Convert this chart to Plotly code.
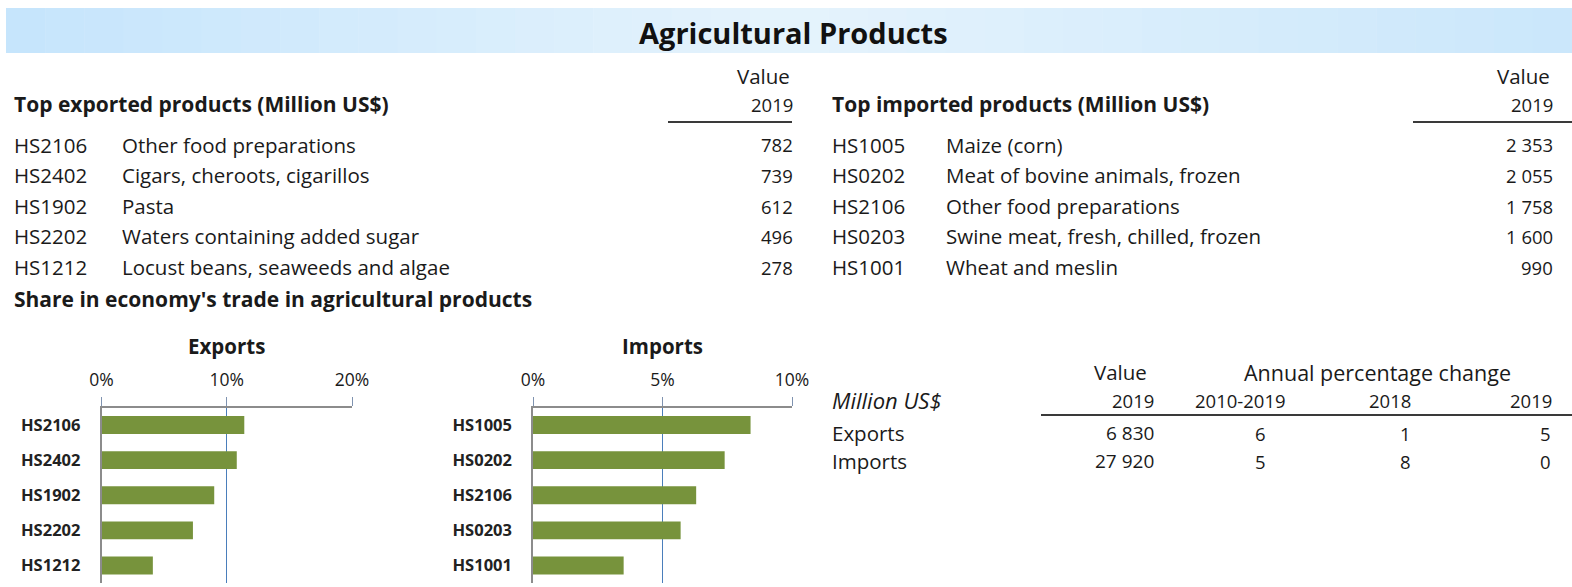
import plotly.graph_objects as go

W, H = 1572, 587
FONT = "Open Sans"

# ---------------- data ----------------
title = "Agricultural Products"
exp_heading = "Top exported products (Million US$)"
imp_heading = "Top imported products (Million US$)"
exp_codes = ["HS2106", "HS2402", "HS1902", "HS2202", "HS1212"]
exp_names = ["Other food preparations", "Cigars, cheroots, cigarillos", "Pasta",
             "Waters containing added sugar", "Locust beans, seaweeds and algae"]
exp_values = [782, 739, 612, 496, 278]
imp_codes = ["HS1005", "HS0202", "HS2106", "HS0203", "HS1001"]
imp_names = ["Maize (corn)", "Meat of bovine animals, frozen", "Other food preparations",
             "Swine meat, fresh, chilled, frozen", "Wheat and meslin"]
imp_values = [2353, 2055, 1758, 1600, 990]
share_heading = "Share in economy's trade in agricultural products"
exp_share = [11.4, 10.8, 9.0, 7.3, 4.1]   # % of agricultural exports
imp_share = [8.4, 7.4, 6.3, 5.7, 3.5]     # % of agricultural imports
exp_ticks = [0, 10, 20]
imp_ticks = [0, 5, 10]
summary_rows = ["Exports", "Imports"]
summary_value_2019 = [6830, 27920]
summary_chg_2010_2019 = [6, 5]
summary_chg_2018 = [1, 8]
summary_chg_2019 = [5, 0]

# ---------------- helpers ----------------
def px(x):
    return x / W

def py(y):
    return 1 - y / H

def fmt(v):
    return f"{v:,}".replace(",", " ")

TXT = "#1a1a1a"
annotations = []
shapes = []
BODY, NUM, HEAD = 20.5, 18.5, 21
RPAD = 3  # annotation box padding compensation for right-aligned text

def text(x, y, s, size=BODY, anchor="left", bold=False, italic=False, color=TXT):
    if bold:
        s = f"<b>{s}</b>"
    if italic:
        s = f"<i>{s}</i>"
    if anchor == "right":
        x = x + RPAD
    annotations.append(dict(x=px(x), y=py(y), xref="paper", yref="paper", text=s,
                            showarrow=False, xanchor=anchor, yanchor="middle",
                            font=dict(family=FONT, size=size, color=color)))

def hline(x0, x1, y, width=2, color="#3a3a3a"):
    shapes.append(dict(type="line", xref="paper", yref="paper", x0=px(x0), x1=px(x1),
                       y0=py(y), y1=py(y), line=dict(color=color, width=width)))

# ---------------- title bar (horizontal gradient) ----------------
def lerp(c0, c1, t):
    return tuple(round(a + (b - a) * t) for a, b in zip(c0, c1))

left_c, mid_c, right_c = (198, 229, 252), (229, 243, 252), (203, 231, 251)
n = 40
x0b, x1b = 6, 1572
for i in range(n):
    t = i / (n - 1)
    c = lerp(left_c, mid_c, t * 2) if t < 0.5 else lerp(mid_c, right_c, (t - 0.5) * 2)
    xa = x0b + (x1b - x0b) * i / n
    xb = x0b + (x1b - x0b) * (i + 1) / n + 0.5
    shapes.append(dict(type="rect", xref="paper", yref="paper", x0=px(xa), x1=px(xb),
                       y0=py(53), y1=py(8), line=dict(width=0),
                       fillcolor=f"rgb{c}", layer="below"))
text(793, 32, title, size=29, anchor="center", bold=True, color="#111111")

# ---------------- top tables ----------------
row_y = [145, 175, 206, 236, 267]
# exports
text(789, 76, "Value", anchor="right")
text(792, 104, "2019", size=NUM, anchor="right")
text(12, 104, exp_heading, size=HEAD, bold=True)
hline(668, 792, 122)
for i in range(len(exp_codes)):
    text(12, row_y[i], exp_codes[i])
    text(120, row_y[i], exp_names[i])
    text(792, row_y[i], fmt(exp_values[i]), size=NUM, anchor="right")
# imports
text(1549, 76, "Value", anchor="right")
text(1552, 104, "2019", size=NUM, anchor="right")
text(830, 104, imp_heading, size=HEAD, bold=True)
hline(1413, 1572, 122)
for i in range(len(imp_codes)):
    text(830, row_y[i], imp_codes[i])
    text(944, row_y[i], imp_names[i])
    text(1552, row_y[i], fmt(imp_values[i]), size=NUM, anchor="right")

text(12, 299, share_heading, size=HEAD, bold=True)

# ---------------- bar charts ----------------
text(226, 346, "Exports", size=20.5, bold=True, anchor="center")
text(662, 346, "Imports", size=20.5, bold=True, anchor="center")

fig = go.Figure()
fig.add_trace(go.Bar(x=exp_share, y=exp_codes, orientation="h", xaxis="x", yaxis="y",
                     marker=dict(color="#77933c", line=dict(width=0)), showlegend=False,
                     hoverinfo="skip"))
fig.add_trace(go.Bar(x=imp_share, y=imp_codes, orientation="h", xaxis="x2", yaxis="y2",
                     marker=dict(color="#77933c", line=dict(width=0)), showlegend=False,
                     hoverinfo="skip"))

ydom = [py(583), py(407.5)]
def xaxis(dom, ticks, anchor):
    return dict(domain=dom, range=[ticks[0], ticks[-1]], side="top", anchor=anchor,
                automargin=False,
                tickvals=ticks, ticktext=[f"{t}%" for t in ticks],
                showgrid=True, gridcolor="#4a7ebb", gridwidth=1.4, zeroline=False,
                showline=True, linecolor="#8c8c8c", linewidth=1.5,
                ticks="outside", ticklen=9, tickcolor="#7f93b0", tickwidth=1.3,
                ticklabelstandoff=4,
                tickfont=dict(family=FONT, size=17.5, color=TXT), fixedrange=True)

def yaxis(dom, cats, anchor):
    return dict(domain=dom, anchor=anchor, type="category", automargin=False,
                categoryorder="array", categoryarray=cats, autorange="reversed",
                showline=True, linecolor="#8c8c8c", linewidth=1.5, showgrid=False,
                ticks="", tickvals=cats, ticktext=[f"<b>{c}</b>" for c in cats],
                ticklabelstandoff=16,
                tickfont=dict(family=FONT, size=16.5, color="#222222"), fixedrange=True)

# ---------------- summary table ----------------
text(1146, 372, "Value", anchor="right")
text(1377, 372, "Annual percentage change", size=21.5, anchor="center")
text(830, 400, "Million US$", size=22, italic=True)
text(1153, 400, "2019", size=NUM, anchor="right")
text(1240, 400, "2010-2019", size=NUM, anchor="center")
text(1410, 400, "2018", size=NUM, anchor="right")
text(1551, 400, "2019", size=NUM, anchor="right")
hline(1041, 1572, 415)
sum_y = [433, 461]
for i in range(len(summary_rows)):
    text(830, sum_y[i], summary_rows[i])
    text(1153, sum_y[i], fmt(summary_value_2019[i]), size=NUM + 0.5, anchor="right")
    text(1265, sum_y[i], str(summary_chg_2010_2019[i]), size=NUM, anchor="right")
    text(1410, sum_y[i], str(summary_chg_2018[i]), size=NUM, anchor="right")
    text(1550, sum_y[i], str(summary_chg_2019[i]), size=NUM, anchor="right")

fig.update_layout(
    width=W, height=H, autosize=False,
    margin=dict(l=0, r=0, t=0, b=0, pad=0),
    paper_bgcolor="white", plot_bgcolor="white",
    bargap=0.49,
    xaxis=xaxis([px(101.5), px(352)], exp_ticks, "y"),
    yaxis=yaxis(ydom, exp_codes, "x"),
    xaxis2=xaxis([px(533), px(792)], imp_ticks, "y2"),
    yaxis2=yaxis(ydom, imp_codes, "x2"),
    annotations=annotations,
    shapes=shapes,
    font=dict(family=FONT, color=TXT),
)

fig.write_html(
    "out.html",
    config={"displayModeBar": False, "responsive": False},
    post_script="document.body.style.margin='0';document.body.style.padding='0';"
                "document.body.style.overflow='hidden';"
                "document.documentElement.style.overflow='hidden';",
)
